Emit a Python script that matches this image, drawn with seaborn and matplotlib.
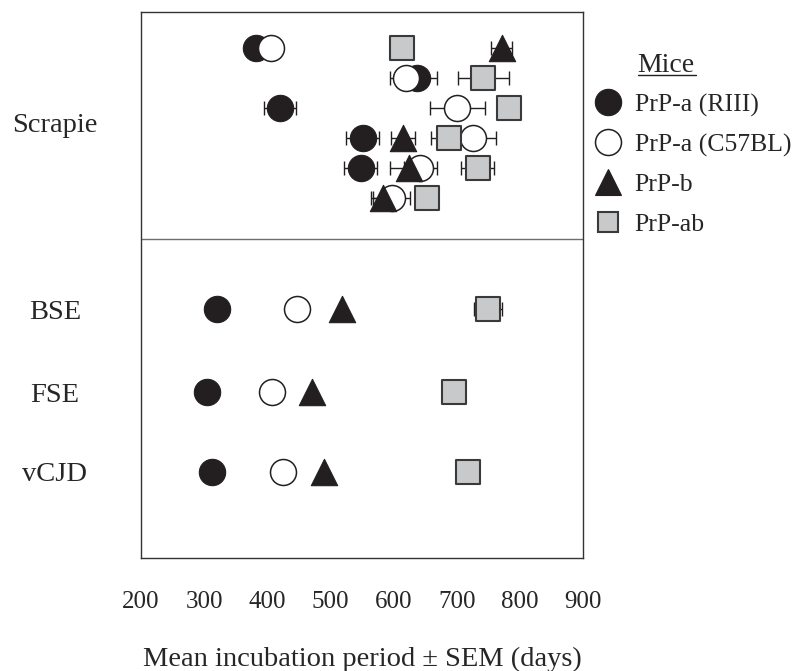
import matplotlib
matplotlib.use('Agg')
import matplotlib.pyplot as plt
from matplotlib.lines import Line2D
import numpy as np
import pandas as pd
import seaborn as sns

# Mäuse-Genotypen
genotypes = ['PrP-a (RIII)', 'PrP-a (C57BL)', 'PrP-b', 'PrP-ab']

# Zeilen der Grafik (sechs Scrapie-Stämme, dann BSE, FSE, vCJD)
rows = ['S1', 'S2', 'S3', 'S4', 'S5', 'S6', 'BSE', 'FSE', 'vCJD']

# Mittlere Inkubationszeit (Tage) je Genotyp und Zeile, None = nicht gemessen
days_riii = [382, 637, 420, 551, 548, None, 321, 305, 312]
days_c57 = [406, 619, 701, 725, 642, 597, 447, 407, 425]
days_b = [771, None, None, 615, 624, 584, 519, 471, 489]
days_ab = [613, 742, 782, 688, 733, 653, 749, 696, 718]

# SEM (Tage)
sem_riii = [0, 32, 26, 26, 26, None, 0, 0, 0]
sem_c57 = [0, 25, 44, 37, 26, 29, 0, 0, 0]
sem_b = [17, None, None, 19, 29, 19, 0, 0, 0]
sem_ab = [0, 40, 18, 29, 26, 0, 22, 0, 0]

group_labels = ['Scrapie', 'BSE', 'FSE', 'vCJD']
x_ticks = [200, 300, 400, 500, 600, 700, 800, 900]

# Layout: vertikale Position der Zeilen
row_pos = {'S1': 1, 'S2': 2, 'S3': 3, 'S4': 4, 'S5': 5, 'S6': 6,
           'BSE': 9.72, 'FSE': 12.47, 'vCJD': 15.13}
group_pos = [3.5, 9.72, 12.47, 15.13]
divider = 7.38

styles = {
    'PrP-a (RIII)': dict(marker='o', s=360, color='#231f20', edgecolor='#231f20', lw=0.8),
    'PrP-a (C57BL)': dict(marker='o', s=350, color='white', edgecolor='#231f20', lw=1.1),
    'PrP-b': dict(marker='^', s=360, color='#231f20', edgecolor='#231f20', lw=0.8),
    'PrP-ab': dict(marker='s', s=275, color='#c8c9cb', edgecolor='#3a3a3a', lw=1.5),
}

frames = []
for g, d, e in zip(genotypes, [days_riii, days_c57, days_b, days_ab], [sem_riii, sem_c57, sem_b, sem_ab]):
    frames.append(pd.DataFrame({'genotype': g, 'row': rows, 'days': d, 'sem': e}))
df = pd.concat(frames, ignore_index=True).dropna(subset=['days'])
df['y'] = df['row'].map(row_pos)

sns.set_style('white')
plt.rcParams['font.family'] = ['Liberation Serif', 'DejaVu Serif']

fig = plt.figure(figsize=(7.94, 6.71), dpi=100)
ax = fig.add_axes([0.1776, 0.1684, 0.5567, 0.8142])

# Fehlerbalken hinter die Symbole
err = df[df['sem'] > 0]
ax.errorbar(err['days'], err['y'], xerr=err['sem'], fmt='none', ecolor='#231f20',
            elinewidth=1.0, capsize=5, capthick=1.0, zorder=1)

for i, g in enumerate(genotypes):
    st = styles[g]
    sns.scatterplot(data=df[df['genotype'] == g], x='days', y='y', marker=st['marker'], s=st['s'],
                    color=st['color'], edgecolor=st['edgecolor'], linewidth=st['lw'], ax=ax,
                    zorder=2 + i, legend=False)

ax.axhline(divider, color='#6e6e6e', lw=1.0)

ax.set_xlim(200, 900)
ax.set_ylim(18.0, -0.2)
ax.set_xticks(x_ticks)
ax.set_xticklabels([str(t) for t in x_ticks], fontsize=18)
ax.set_yticks(group_pos)
ax.set_yticklabels(group_labels, fontsize=20.5, ha='center')
ax.tick_params(axis='y', length=0, pad=62)
ax.tick_params(axis='x', direction='in', length=6.5, width=0.9, color='#333333', pad=24)
ax.set_xlabel('Mean incubation period ± SEM (days)', fontsize=20.5, labelpad=24)
ax.set_ylabel('')
for sp in ax.spines.values():
    sp.set_color('#333333')
    sp.set_linewidth(1.0)

# Legende
handles = []
for g in genotypes:
    st = styles[g]
    ms = np.sqrt(st['s'])
    if g == 'PrP-ab':
        ms = ms * 0.85
    handles.append(Line2D([], [], ls='none', marker=st['marker'], markersize=ms,
                          markerfacecolor=st['color'], markeredgecolor=st['edgecolor'],
                          markeredgewidth=st['lw']))
fig.legend(handles, genotypes, loc='upper left', bbox_to_anchor=(0.733, 0.876), frameon=False,
           fontsize=18.5, labelspacing=0.64, handletextpad=0.45, handlelength=1.2, borderaxespad=0)

fig.text(0.803, 0.903, 'Mice', fontsize=20, ha='left', va='center')
fig.add_artist(Line2D([0.803, 0.876], [0.888, 0.888], color='#231f20', lw=1.0))

fig.savefig('out.png', dpi=100)
